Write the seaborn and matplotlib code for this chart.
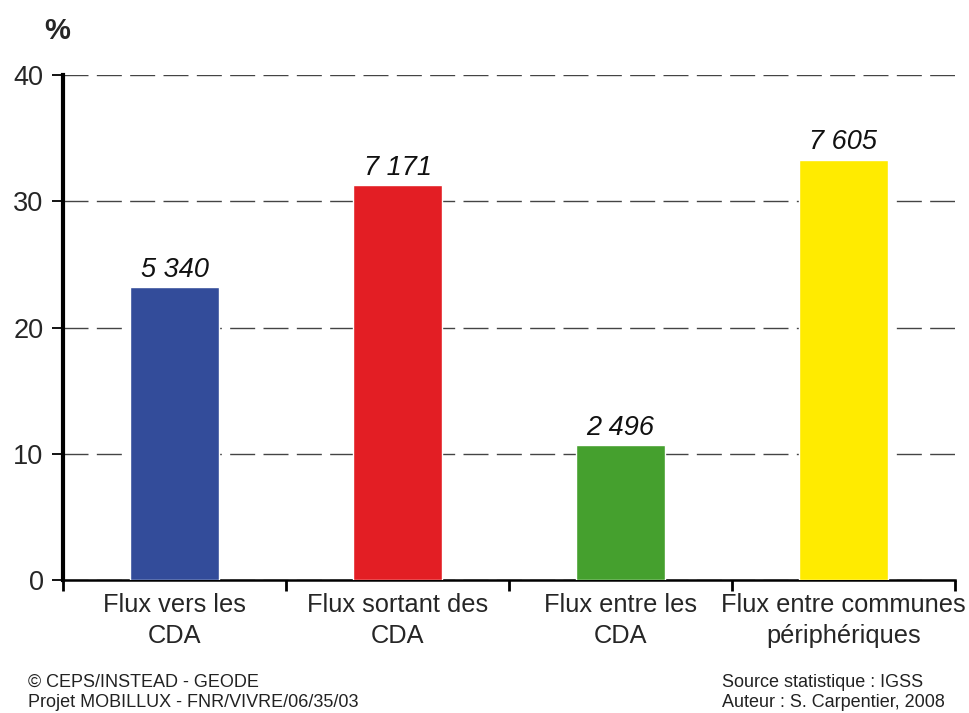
import pandas as pd
import numpy as np
import matplotlib
matplotlib.use("Agg")
import matplotlib.pyplot as plt
import seaborn as sns

# Data
categories = ["Flux vers les\nCDA", "Flux sortant des\nCDA", "Flux entre les\nCDA",
              "Flux entre communes\npériphériques"]
percent = [23.2, 31.3, 10.7, 33.3]
counts = ["5 340", "7 171", "2 496", "7 605"]
colors = ["#334c9a", "#e31e24", "#45a02e", "#ffeb00"]
y_ticks = [0, 10, 20, 30, 40]

df = pd.DataFrame({"cat": categories, "pct": percent})

sns.set_theme(style="white")
plt.rcParams["font.family"] = ["Liberation Sans", "DejaVu Sans"]

fig = plt.figure(figsize=(9.7, 7.13), dpi=100)
ax = fig.add_axes([0.065, 0.1865, 0.9195, 0.7083])

sns.barplot(data=df, x="cat", y="pct", hue="cat", palette=colors, width=0.4,
            saturation=1, legend=False, ax=ax, zorder=3)

# value labels (number of flows) above bars
for cont, lab in zip(ax.containers, counts):
    ax.bar_label(cont, labels=[lab], padding=3, fontsize=19.5, fontstyle="italic",
                 color="#111111")

ax.set_xlim(-0.5, len(categories) - 0.5)
ax.set_ylim(0, 40)
ax.set_yticks(y_ticks)
ax.set_xlabel("")
ax.set_ylabel("")

# x ticks between categories, labels centred under bars
ax.set_xticks(np.arange(len(categories)))
ax.set_xticklabels(categories, fontsize=18.3, linespacing=1.38)
ax.tick_params(axis="x", which="major", length=0, pad=9)
ax.set_xticks(np.arange(-0.5, len(categories)), minor=True)
ax.tick_params(axis="x", which="minor", length=8, width=2, color="black",
               direction="out", bottom=True)
ax.tick_params(axis="y", length=8, width=1.3, color="black", direction="out",
               left=True, labelsize=19.5, pad=6)

ax.grid(axis="y", linestyle=(0, (18, 6)), color="#444444", linewidth=1, zorder=0)
ax.grid(axis="x", visible=False)

for s in ["top", "right"]:
    ax.spines[s].set_visible(False)
ax.spines["left"].set_linewidth(3)
ax.spines["left"].set_color("black")
ax.spines["bottom"].set_linewidth(1.8)
ax.spines["bottom"].set_color("black")

fig.text(0.059, 0.957, "%", fontsize=21, fontweight="bold", ha="center", va="center")

# footer: credits left, source right
foot_size = 13
fig.text(0.029, 0.031, "© CEPS/INSTEAD - GEODE", fontsize=foot_size, va="bottom",
         color="#222222")
fig.text(0.029, 0.003, "Projet MOBILLUX - FNR/VIVRE/06/35/03", fontsize=foot_size,
         va="bottom", color="#222222")
fig.text(0.744, 0.031, "Source statistique : IGSS", fontsize=foot_size, va="bottom",
         color="#222222")
fig.text(0.744, 0.003, "Auteur : S. Carpentier, 2008", fontsize=foot_size, va="bottom",
         color="#222222")

fig.savefig("out.png", dpi=100)
